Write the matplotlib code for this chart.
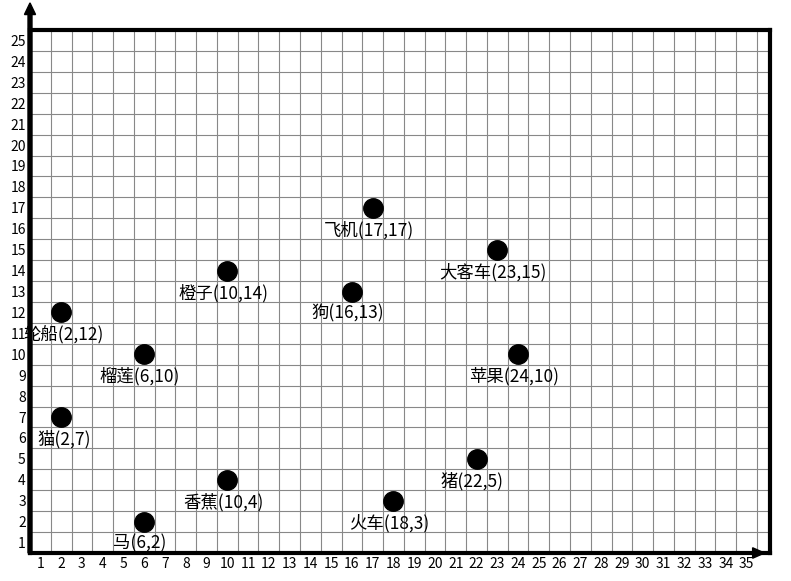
import matplotlib
matplotlib.use("Agg")
import matplotlib.pyplot as plt
import numpy as np

plt.rcParams['font.family'] = ['Noto Sans CJK SC', 'DejaVu Sans']

names = ["轮船", "猫", "榴莲", "马", "橙子", "香蕉", "狗", "飞机", "火车", "猪", "大客车", "苹果"]
xs = [2, 2, 6, 6, 10, 10, 16, 17, 18, 22, 23, 24]
ys = [12, 7, 10, 2, 14, 4, 13, 17, 3, 5, 15, 10]
x_ticks = list(range(1, 36))
y_ticks = list(range(1, 26))

fig = plt.figure(figsize=(7.91, 5.81), dpi=100)
ax = fig.add_axes([30 / 791, 28 / 581, 740 / 791, 523 / 581])
ax.set_xlim(0, 740 / 20.77)
ax.set_ylim(0, 25)

ax.set_xticks(np.arange(0, 36), minor=True)
ax.set_yticks(np.arange(0, 26), minor=True)
ax.grid(which="minor", color="#888888", lw=0.8)
ax.set_xticks([t - 0.5 for t in x_ticks])
ax.set_xticklabels([str(t) for t in x_ticks], fontsize=10)
ax.set_yticks([t - 0.5 for t in y_ticks])
ax.set_yticklabels([str(t) for t in y_ticks], fontsize=10)
ax.tick_params(which="both", length=0, pad=3)
for s in ax.spines.values():
    s.set_linewidth(3)
    s.set_color("black")

for n, x, y in zip(names, xs, ys):
    ax.plot(x - 0.5, y - 0.5, "o", color="black", ms=14, zorder=3)
    dx = 2 if x == 2 else -3
    ax.annotate(f"{n}({x},{y})", (x - 0.5, y - 0.5), xytext=(dx, -16),
                textcoords="offset points", ha="center", va="center", fontsize=12.5)

# arrows
fig.patches.append(matplotlib.patches.FancyArrow(30 / 791, 28 / 581, 755 / 791 - 30 / 791 + 0.012, 0,
                   width=0.004, head_width=0.018, head_length=0.015, color="black",
                   length_includes_head=True, transform=fig.transFigure))
fig.patches.append(matplotlib.patches.FancyArrow(30 / 791, 28 / 581, 0, 1 - 28 / 581 - 0.005,
                   width=0.005, head_width=0.014, head_length=0.02, color="black",
                   length_includes_head=True, transform=fig.transFigure))

fig.savefig("out.png", dpi=100)
